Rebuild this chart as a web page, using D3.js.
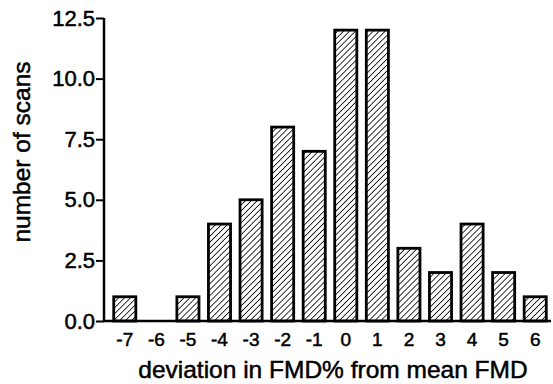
<!DOCTYPE html>
<html>
<head>
<meta charset="utf-8">
<script src="https://cdn.jsdelivr.net/npm/d3@7"></script>
<style>
  body { margin: 0; background: #fff; }
  text { font-family: "Liberation Sans", Arial, sans-serif; fill: #000; stroke: #000; stroke-width: 0.5px; }
</style>
</head>
<body>
<div id="chart"></div>
<script>
const width = 553;
const height = 384;

// deviation categories and counts
const deviations = [-7, -6, -5, -4, -3, -2, -1, 0, 1, 2, 3, 4, 5, 6];
const counts = [1, 0, 1, 4, 5, 8, 7, 12, 12, 3, 2, 4, 2, 1];
const yTicks = [0, 2.5, 5, 7.5, 10, 12.5];

const svg = d3.select("#chart")
  .append("svg")
  .attr("width", width)
  .attr("height", height);

// hatch pattern for the bars
const defs = svg.append("defs");
defs.append("pattern")
  .attr("id", "hatch")
  .attr("patternUnits", "userSpaceOnUse")
  .attr("width", 4.2)
  .attr("height", 4.2)
  .attr("patternTransform", "rotate(45)")
  .append("line")
  .attr("x1", 0).attr("y1", 0)
  .attr("x2", 0).attr("y2", 4.2)
  .attr("stroke", "#000")
  .attr("stroke-width", 1.6);

const x = d3.scaleBand()
  .domain(deviations)
  .range([109, 551])
  .paddingInner(0.3)
  .paddingOuter(0.15);

const y = d3.scaleLinear()
  .domain([0, 12.5])
  .range([321, 18]);

// bars
svg.selectAll("rect.bar")
  .data(deviations.map((d, i) => ({ dev: d, n: counts[i] })))
  .enter()
  .append("rect")
  .attr("class", "bar")
  .attr("x", d => x(d.dev))
  .attr("y", d => y(d.n))
  .attr("width", x.bandwidth())
  .attr("height", d => y(0) - y(d.n))
  .attr("fill", "url(#hatch)")
  .attr("stroke", d => d.n > 0 ? "#000" : "none")
  .attr("stroke-width", 2.8);

// y axis
const yAxis = svg.append("g")
  .attr("transform", "translate(104,0)")
  .call(d3.axisLeft(y).tickValues(yTicks).tickFormat(d3.format(".1f")).tickSize(8).tickPadding(1));
yAxis.select(".domain").attr("stroke-width", 2.5).attr("d", `M0,${y(12.5)}V${y(0)}`);
yAxis.selectAll(".tick line").attr("stroke-width", 2);
yAxis.selectAll(".tick text").style("font-size", "22px");

// x axis
const xAxis = svg.append("g")
  .attr("transform", `translate(0,${y(0)})`)
  .call(d3.axisBottom(x).tickSize(0).tickPadding(12));
xAxis.select(".domain").attr("stroke-width", 2.5).attr("d", "M103,0H551");
xAxis.selectAll(".tick text").style("font-size", "19px");

// axis titles
svg.append("text")
  .attr("x", 333)
  .attr("y", 378)
  .attr("text-anchor", "middle")
  .style("font-size", "24.5px")
  .text("deviation in FMD% from mean FMD");

svg.append("text")
  .attr("transform", "translate(30,152) rotate(-90)")
  .attr("text-anchor", "middle")
  .style("font-size", "24.5px")
  .text("number of scans");
</script>
</body>
</html>
